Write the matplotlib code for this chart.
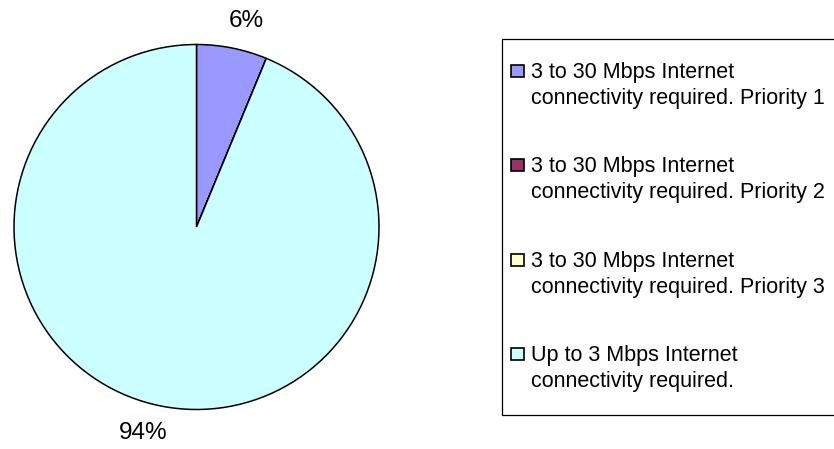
import matplotlib
matplotlib.use("Agg")
import matplotlib.pyplot as plt
from matplotlib.patches import Rectangle
from matplotlib.transforms import offset_copy

plt.rcParams['font.family'] = ['Liberation Sans', 'DejaVu Sans']

# share of respondents per connectivity requirement
labels = ["3 to 30 Mbps Internet\nconnectivity required. Priority 1",
          "3 to 30 Mbps Internet\nconnectivity required. Priority 2",
          "3 to 30 Mbps Internet\nconnectivity required. Priority 3",
          "Up to 3 Mbps Internet\nconnectivity required."]
values = [1, 0, 0, 15]
colors = ["#9999FF", "#993366", "#FFFFCC", "#CCFFFF"]

W, H = 834, 449
fig = plt.figure(figsize=(W / 100, H / 100), dpi=100)


def fx(px):
    return px / W


def fy(py):
    return 1 - py / H


# pie: centre (196.5, 227) px, radius 182.5 px
cx, cy, r = 196.5, 227, 182.5
ax = fig.add_axes([fx(cx - r), fy(cy + r), 2 * r / W, 2 * r / H])


def pct(p):
    return "%.0f%%" % p if p > 0.5 else ""


wedges, texts, autotexts = ax.pie(values, colors=colors, startangle=90, counterclock=False,
                                  autopct=pct, pctdistance=1.15,
                                  wedgeprops=dict(edgecolor="black", linewidth=1.1),
                                  textprops=dict(fontsize=17.5))
ax.set_xlim(-1, 1)
ax.set_ylim(-1, 1)
ax.axis("off")

# excel pushes the labels a bit sideways, away from the centre
fig.canvas.draw()
for t in autotexts:
    if not t.get_text():
        continue
    half = t.get_window_extent().width / 2
    sign = 1 if t.get_position()[0] >= 0 else -1
    t.set_transform(offset_copy(ax.transData, fig, x=sign * 0.5 * half, y=0, units="dots"))

# legend box, runs off the right edge like the original
fig.patches.append(Rectangle((fx(502), fy(415)), fx(400), (415 - 39) / H,
                             transform=fig.transFigure, facecolor="white",
                             edgecolor="black", linewidth=0.9, zorder=0))

first_base = 78
pitch = 94.3
for i, (lab, col) in enumerate(zip(labels, colors)):
    base = first_base + i * pitch
    fig.patches.append(Rectangle((fx(511), fy(base - 1)), 13 / W, 12 / H,
                                 transform=fig.transFigure, facecolor=col,
                                 edgecolor="black", linewidth=1.2, zorder=2))
    for j, line in enumerate(lab.split("\n")):
        fig.text(fx(531), fy(base + j * 26), line, fontsize=15.5, va="baseline", ha="left")

fig.savefig("out.png", dpi=100)
